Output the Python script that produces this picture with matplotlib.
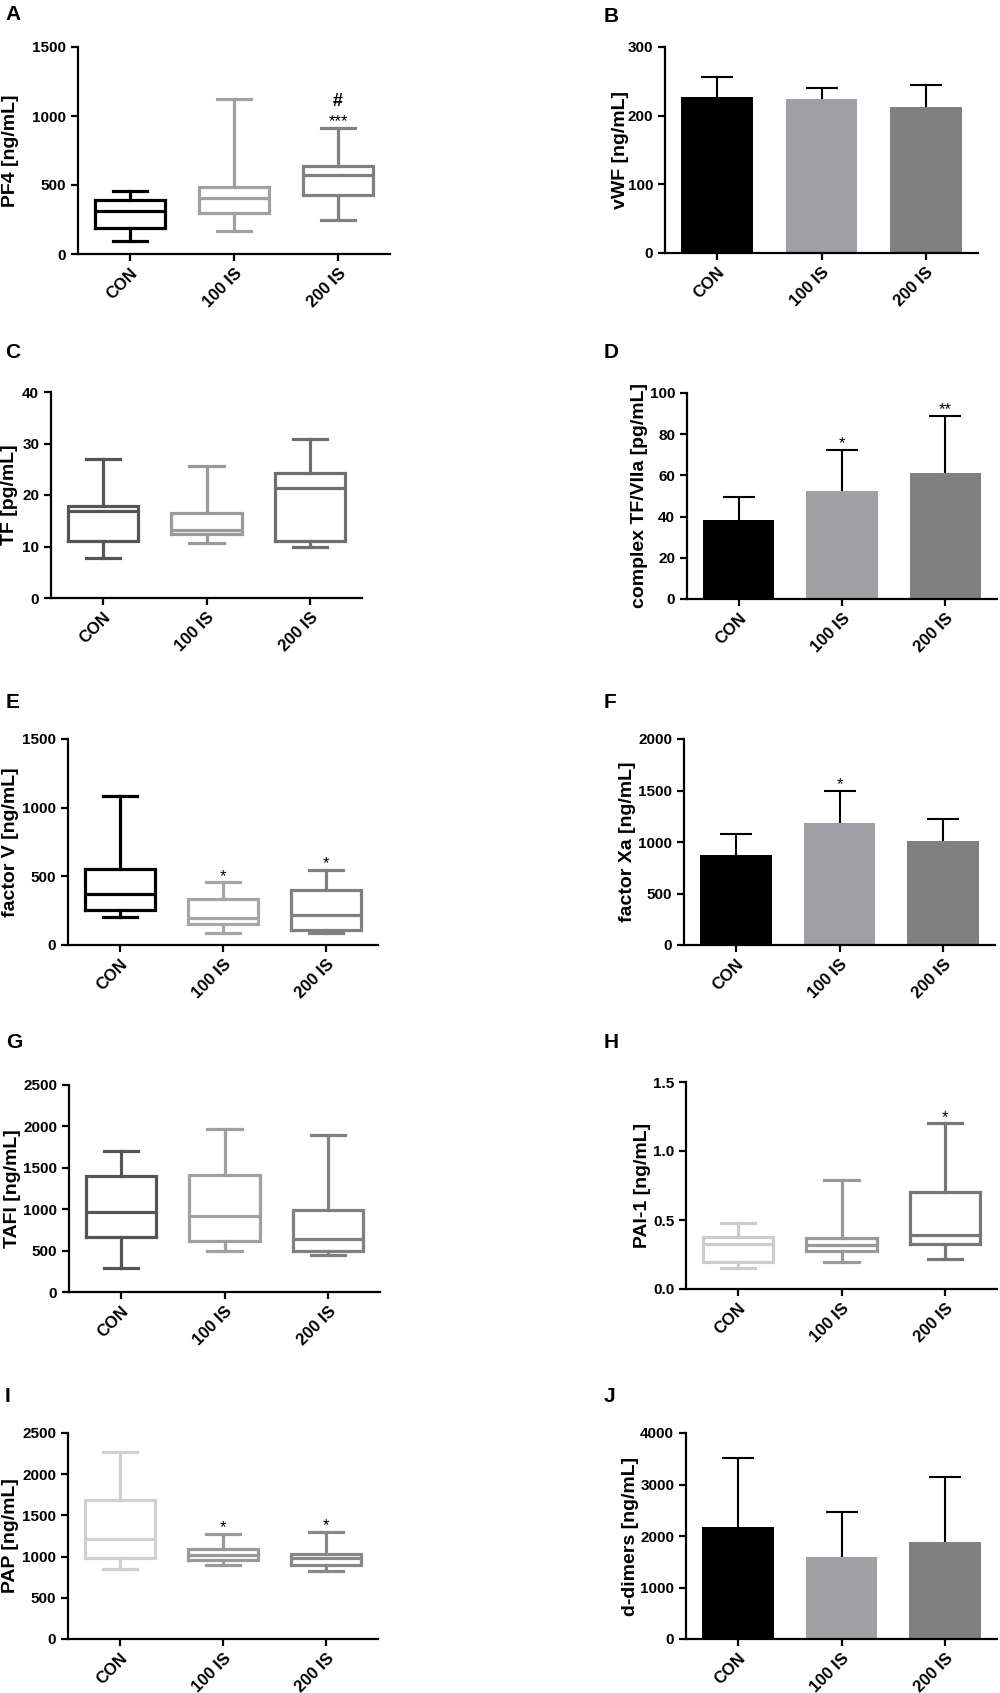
import matplotlib
matplotlib.use("Agg")
import matplotlib.pyplot as plt

plt.rcParams['font.family'] = ['Liberation Sans', 'DejaVu Sans']
plt.rcParams['font.weight'] = 'bold'

groups = ['CON', '100 IS', '200 IS']

# A - PF4 box plot
pf4_min = [96, 164, 246]
pf4_q1 = [186, 297, 424]
pf4_med = [313, 408, 572]
pf4_q3 = [388, 482, 639]
pf4_max = [458, 1124, 914]
pf4_marks = ['', '', '***']
pf4_marks2 = ['', '', '#']

# B - vWF bars
vwf_mean = [227, 224, 213]
vwf_err = [30, 17, 31]

# C - TF box plot
tf_min = [7.7, 10.7, 10.0]
tf_q1 = [11.1, 12.5, 11.1]
tf_med = [16.8, 13.2, 21.4]
tf_q3 = [17.9, 16.6, 24.3]
tf_max = [27.0, 25.6, 30.8]

# D - complex TF/VIIa bars
tfvii_mean = [38.5, 52.6, 61.3]
tfvii_err = [10.8, 19.7, 27.4]
tfvii_marks = ['', '*', '**']

# E - factor V box plot
fv_min = [204, 90, 90]
fv_q1 = [252, 153, 112]
fv_med = [369, 197, 221]
fv_q3 = [551, 333, 400]
fv_max = [1082, 456, 544]
fv_marks = ['', '*', '*']

# F - factor Xa bars
fxa_mean = [877, 1184, 1010]
fxa_err = [201, 311, 216]
fxa_marks = ['', '*', '']

# G - TAFI box plot
tafi_min = [286, 496, 452]
tafi_q1 = [665, 617, 496]
tafi_med = [968, 915, 641]
tafi_q3 = [1407, 1419, 996]
tafi_max = [1706, 1964, 1891]

# H - PAI-1 box plot
pai_min = [0.150, 0.196, 0.220]
pai_q1 = [0.199, 0.278, 0.329]
pai_med = [0.329, 0.319, 0.392]
pai_q3 = [0.380, 0.370, 0.702]
pai_max = [0.479, 0.789, 1.200]
pai_marks = ['', '', '*']

# I - PAP box plot
pap_min = [849, 902, 829]
pap_q1 = [979, 963, 902]
pap_med = [1210, 1023, 979]
pap_q3 = [1691, 1088, 1027]
pap_max = [2269, 1274, 1298]
pap_marks = ['', '*', '*']

# J - d-dimers bars
dd_mean = [2168, 1592, 1877]
dd_err = [1353, 874, 1275]

bar_colors = ['#000000', '#a0a0a4', '#808080']

W, H = 1000, 1693
fig = plt.figure(figsize=(W / 100, H / 100), dpi=100)


def make_axes(l, t, r, b):
    return fig.add_axes([l / W, 1 - b / H, (r - l) / W, (b - t) / H])


def style(ax, ylabel, ymax, yticks, labx):
    ax.spines['top'].set_visible(False)
    ax.spines['right'].set_visible(False)
    ax.spines['left'].set_linewidth(1.6)
    ax.spines['bottom'].set_linewidth(1.6)
    ax.tick_params(width=1.6, length=5, labelsize=11)
    ax.set_xlim(-0.5, 2.5)
    ax.set_ylim(0, ymax)
    ax.set_yticks(yticks)
    ax.set_xticks(range(3))
    ax.set_xticklabels(groups, rotation=45, ha='right', va='top',
                       rotation_mode='anchor', fontsize=12)
    ax.set_ylabel(ylabel, fontsize=14, fontweight='bold', va='center')
    ax.yaxis.set_label_coords(labx, 0.5)


def marks(ax, tops, texts, off=1.2, size=12, weight='normal'):
    for i, s in enumerate(texts):
        if s:
            ax.annotate(s, xy=(i, tops[i]), xytext=(0, off), textcoords='offset points',
                        ha='center', va='baseline', fontsize=size, fontweight=weight)


def box_panel(rect, lo, q1, med, q3, hi, colors, ylabel, ymax, yticks, labx):
    ax = make_axes(*rect)
    stats = [dict(med=med[i], q1=q1[i], q3=q3[i], whislo=lo[i], whishi=hi[i], fliers=[])
             for i in range(3)]
    bp = ax.bxp(stats, positions=range(3), widths=0.68, capwidths=0.33, showfliers=False)
    for i, c in enumerate(colors):
        for art in [bp['boxes'][i], bp['medians'][i], bp['whiskers'][2 * i],
                    bp['whiskers'][2 * i + 1], bp['caps'][2 * i], bp['caps'][2 * i + 1]]:
            art.set_color(c)
            art.set_linewidth(2.3)
            art.set_solid_joinstyle('miter')
    style(ax, ylabel, ymax, yticks, labx)
    return ax


def bar_panel(rect, mean, err, ylabel, ymax, yticks, labx):
    ax = make_axes(*rect)
    ax.bar(range(3), mean, width=0.69, color=bar_colors, zorder=2)
    eb = ax.errorbar(range(3), mean, yerr=[[0, 0, 0], err], fmt='none', ecolor='black',
                     elinewidth=1.5, capsize=11.5, capthick=1.5, zorder=1)
    # one-sided bars: hide the cap sitting on the bar top
    for cap in eb[1]:
        if list(cap.get_ydata()) == list(mean):
            cap.set_visible(False)
    style(ax, ylabel, ymax, yticks, labx)
    return ax


axA = box_panel((78, 47, 390, 254), pf4_min, pf4_q1, pf4_med, pf4_q3, pf4_max,
                ['#000000', '#a0a0a0', '#808080'], 'PF4 [ng/mL]', 1500,
                [0, 500, 1000, 1500], -0.215)
marks(axA, pf4_max, pf4_marks)
marks(axA, pf4_max, pf4_marks2, off=16, size=13, weight='bold')

axB = bar_panel((665, 47, 978, 253), vwf_mean, vwf_err, 'vWF [ng/mL]', 300,
                [0, 100, 200, 300], -0.143)

axC = box_panel((51, 392, 362, 598), tf_min, tf_q1, tf_med, tf_q3, tf_max,
                ['#555555', '#9a9a9a', '#6e6e6e'], 'TF [pg/mL]', 40,
                [0, 10, 20, 30, 40], -0.132)

axD = bar_panel((687, 393, 997, 599), tfvii_mean, tfvii_err, 'complex TF/VIIa [pg/mL]', 100,
                [0, 20, 40, 60, 80, 100], -0.152)
marks(axD, [m + e for m, e in zip(tfvii_mean, tfvii_err)], tfvii_marks)

axE = box_panel((68, 739, 378, 945), fv_min, fv_q1, fv_med, fv_q3, fv_max,
                ['#000000', '#a6a6a6', '#808080'], 'factor V [ng/mL]', 1500,
                [0, 500, 1000, 1500], -0.187)
marks(axE, fv_max, fv_marks)

axF = bar_panel((684, 739, 995, 945), fxa_mean, fxa_err, 'factor Xa [ng/mL]', 2000,
                [0, 500, 1000, 1500, 2000], -0.183)
marks(axF, [m + e for m, e in zip(fxa_mean, fxa_err)], fxa_marks)

axG = box_panel((69, 1085, 380, 1292), tafi_min, tafi_q1, tafi_med, tafi_q3, tafi_max,
                ['#555555', '#a0a0a0', '#808080'], 'TAFI [ng/mL]', 2500,
                [0, 500, 1000, 1500, 2000, 2500], -0.183)

axH = box_panel((686, 1082, 997, 1289), pai_min, pai_q1, pai_med, pai_q3, pai_max,
                ['#cccccc', '#999999', '#777777'], 'PAI-1 [ng/mL]', 1.5,
                [0.0, 0.5, 1.0, 1.5], -0.141)
marks(axH, pai_max, pai_marks)

axI = box_panel((68, 1433, 378, 1639), pap_min, pap_q1, pap_med, pap_q3, pap_max,
                ['#d0d0d0', '#999999', '#888888'], 'PAP [ng/mL]', 2500,
                [0, 500, 1000, 1500, 2000, 2500], -0.187)
marks(axI, pap_max, pap_marks)

axJ = bar_panel((686, 1433, 997, 1639), dd_mean, dd_err, 'd-dimers [ng/mL]', 4000,
                [0, 1000, 2000, 3000, 4000], -0.177)

letters = [('A', 13, 15), ('B', 611, 16), ('C', 13, 352), ('D', 611, 352),
           ('E', 13, 703), ('F', 610, 703), ('G', 14, 1042), ('H', 611, 1043),
           ('I', 7, 1397), ('J', 609, 1397)]
for s, x, y in letters:
    fig.text(x / W, 1 - y / H, s, fontsize=15, fontweight='bold', ha='center', va='center')

fig.savefig('out.png', dpi=100)
